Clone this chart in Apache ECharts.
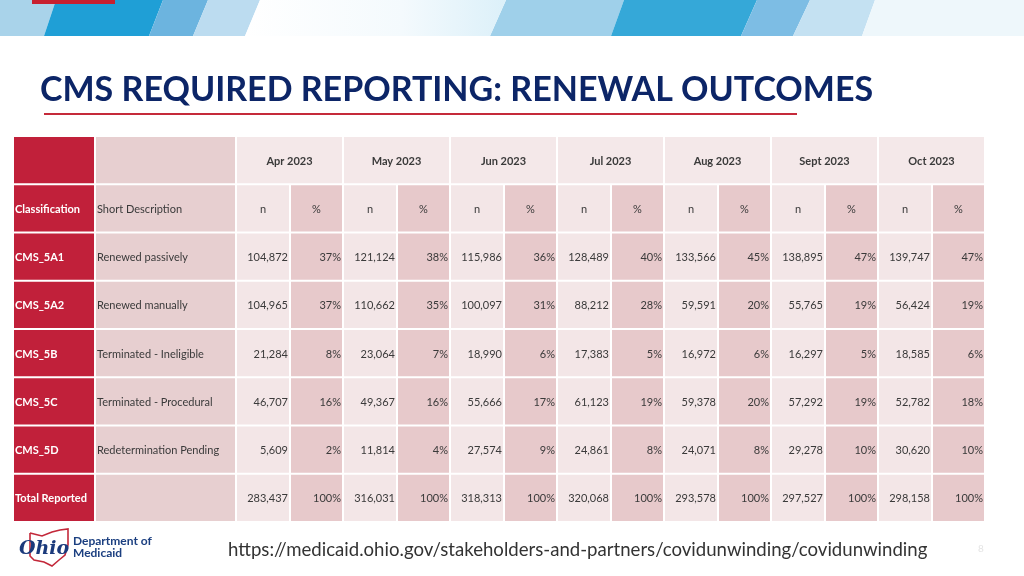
<!DOCTYPE html>
<html><head><meta charset="utf-8">
<script src="https://cdn.jsdelivr.net/npm/echarts@6/dist/echarts.min.js"></script>
<style>html,body{margin:0;padding:0;background:#fff}#c{width:1024px;height:576px}</style>
</head><body><div id="c"></div>
<script>
// ---------- data ----------
const months = ['Apr 2023','May 2023','Jun 2023','Jul 2023','Aug 2023','Sept 2023','Oct 2023'];
const codes = ['CMS_5A1','CMS_5A2','CMS_5B','CMS_5C','CMS_5D','Total Reported'];
const descriptions = ['Renewed passively','Renewed manually','Terminated - Ineligible','Terminated - Procedural','Redetermination Pending',''];
const passivelyN   = [104872,121124,115986,128489,133566,138895,139747];
const passivelyPct = [37,38,36,40,45,47,47];
const manuallyN    = [104965,110662,100097,88212,59591,55765,56424];
const manuallyPct  = [37,35,31,28,20,19,19];
const ineligibleN  = [21284,23064,18990,17383,16972,16297,18585];
const ineligiblePct= [8,7,6,5,6,5,6];
const proceduralN  = [46707,49367,55666,61123,59378,57292,52782];
const proceduralPct= [16,16,17,19,20,19,18];
const pendingN     = [5609,11814,27574,24861,24071,29278,30620];
const pendingPct   = [2,4,9,8,8,10,10];
const totalN       = [283437,316031,318313,320068,293578,297527,298158];
const totalPct     = [100,100,100,100,100,100,100];
const headLabels = ['Classification','Short Description','n','%'];
const titleText = 'CMS REQUIRED REPORTING: RENEWAL OUTCOMES';
const urlText = 'https://medicaid.ohio.gov/stakeholders-and-partners/covidunwinding/covidunwinding';

// ---------- layout / style ----------
const rowsN = [passivelyN, manuallyN, ineligibleN, proceduralN, pendingN, totalN];
const rowsPct = [passivelyPct, manuallyPct, ineligiblePct, proceduralPct, pendingPct, totalPct];
const W_CLASS = 82, W_DESC = 141, W_N = 54, W_P = 53;
const RED = '#c1203a', DESC = '#e7cfd0', LIGHT = '#f3e6e7', PINK = '#e7c9cb', HEAD = '#f4e8e9';
const FONT = 'Lato';
const fmt = v => v.toLocaleString('en-US');

const cells = [];
function add(x0, w, row, text, fill, opts) {
  cells.push(Object.assign({value: [x0, x0 + w, row], text, fill}, opts || {}));
}
const monthX = i => W_CLASS + W_DESC + i * (W_N + W_P);
// header row
add(0, W_CLASS, 0, '', RED);
add(W_CLASS, W_DESC, 0, '', DESC);
months.forEach((m, i) => add(monthX(i), W_N + W_P, 0, m, HEAD, {align: 'center', bold: true}));
// sub header
add(0, W_CLASS, 1, headLabels[0], RED, {align: 'left', bold: true, color: '#fff'});
add(W_CLASS, W_DESC, 1, headLabels[1], DESC, {align: 'left'});
months.forEach((m, i) => {
  add(monthX(i), W_N, 1, headLabels[2], LIGHT, {align: 'center'});
  add(monthX(i) + W_N, W_P, 1, headLabels[3], PINK, {align: 'center'});
});
// data rows
codes.forEach((code, r) => {
  add(0, W_CLASS, r + 2, code, RED, {align: 'left', bold: true, color: '#fff'});
  add(W_CLASS, W_DESC, r + 2, descriptions[r], DESC, {align: 'left'});
  months.forEach((m, i) => {
    add(monthX(i), W_N, r + 2, fmt(rowsN[r][i]), LIGHT, {align: 'right'});
    add(monthX(i) + W_N, W_P, r + 2, rowsPct[r][i] + '%', PINK, {align: 'right'});
  });
});
const rowCats = ['h0','h1'].concat(codes);
const TOTAL_W = W_CLASS + W_DESC + months.length * (W_N + W_P);

function renderItem(params, api) {
  const c = cells[params.dataIndex];
  const p0 = api.coord([api.value(0), api.value(2)]);
  const p1 = api.coord([api.value(1), api.value(2)]);
  const h = api.size([0, 1])[1];
  const x = p0[0], y = p0[1] - h / 2, w = p1[0] - p0[0];
  const children = [{
    type: 'rect', shape: {x: x, y: y, width: w - 2, height: h - 2},
    style: {fill: c.fill}
  }];
  if (c.text) {
    let tx = x + (w - 2) / 2;
    if (c.align === 'left') tx = x + 1;
    if (c.align === 'right') tx = x + w - 3;
    children.push({
      type: 'text',
      style: {
        x: tx, y: y + (h - 2) / 2 + 1, text: c.text,
        textAlign: c.align || 'center', textVerticalAlign: 'middle',
        fill: c.color || '#3a3a3a',
        font: (c.bold ? 'bold ' : '') + '11px ' + FONT
      }
    });
  }
  return {type: 'group', children};
}

// banner stripes
const stripes = [
  [[0,0],[56,0],[44,36],[0,36], '#a9d3ea'],
  [[56,0],[163,0],[149,36],[44,36], '#1f9fd6'],
  [[163,0],[208,0],[193,36],[149,36], '#6cb4df'],
  [[208,0],[260,0],[245,36],[193,36], '#bcdcf0'],
  [[506,0],[624,0],[611,36],[490,36], '#9fd0ea'],
  [[624,0],[757,0],[741,36],[611,36], '#35a8d8'],
  [[757,0],[810,0],[793,36],[741,36], '#7dbde4'],
  [[810,0],[875,0],[862,36],[793,36], '#c4e1f2'],
  [[875,0],[1024,0],[1024,36],[862,36], '#eef7fb']
];
const graphics = stripes.map(s => ({
  type: 'polygon', shape: {points: s.slice(0, 4)}, style: {fill: s[4]}, silent: true
}));
graphics.push({
  type: 'polygon', shape: {points: [[260,0],[506,0],[490,36],[245,36]]},
  style: {fill: new echarts.graphic.LinearGradient(0, 0, 1, 0, [
    {offset: 0, color: '#ffffff'}, {offset: 0.6, color: '#f4fafd'}, {offset: 1, color: '#dcf0f9'}])}
});
graphics.push({type: 'rect', shape: {x: 32, y: 0, width: 83, height: 4}, style: {fill: '#c8202f'}});
// title & underline
graphics.push({type: 'text', style: {x: 40, y: 90, text: titleText, textVerticalAlign: 'middle',
  font: 'bold 34px ' + FONT, fill: '#0c2567'}});
graphics.push({type: 'rect', shape: {x: 44, y: 113, width: 753, height: 2}, style: {fill: '#c52a3a'}});
// logo
graphics.push({type: 'polyline', shape: {points: [[30,533],[42,536],[52,532],[60,530],[68,529],[68,545],[65,555],[59,560],[52,566],[44,562],[34,560],[30,556],[30,533]]},
  style: {stroke: '#c3283a', lineWidth: 1.6, fill: null}});
graphics.push({type: 'text', style: {x: 19, y: 549, text: 'Ohio', textVerticalAlign: 'middle',
  font: 'italic bold 19px "DejaVu Serif"', fill: '#1b3a7c'}});
graphics.push({type: 'text', style: {x: 73, y: 541, text: 'Department of', textVerticalAlign: 'middle',
  font: 'bold 12px ' + FONT, fill: '#1b3f80'}});
graphics.push({type: 'text', style: {x: 73, y: 553, text: 'Medicaid', textVerticalAlign: 'middle',
  font: 'bold 12px ' + FONT, fill: '#1b3f80'}});
graphics.push({type: 'text', style: {x: 228, y: 550, text: urlText, textVerticalAlign: 'middle',
  font: '18.6px ' + FONT, fill: '#333'}});
graphics.push({type: 'text', style: {x: 978, y: 549, text: '8', textVerticalAlign: 'middle',
  font: '10px ' + FONT, fill: '#e4e4e4'}});

const chart = echarts.init(document.getElementById('c'), null, {renderer: 'canvas'});
chart.setOption({
  animation: false,
  backgroundColor: '#fff',
  grid: {left: 14, top: 137, width: TOTAL_W, height: 386},
  xAxis: {type: 'value', min: 0, max: TOTAL_W, show: false},
  yAxis: {type: 'category', data: rowCats, inverse: true, show: false},
  series: [{type: 'custom', renderItem, data: cells.map(c => c.value), clip: false}],
  graphic: graphics
});
</script></body></html>
